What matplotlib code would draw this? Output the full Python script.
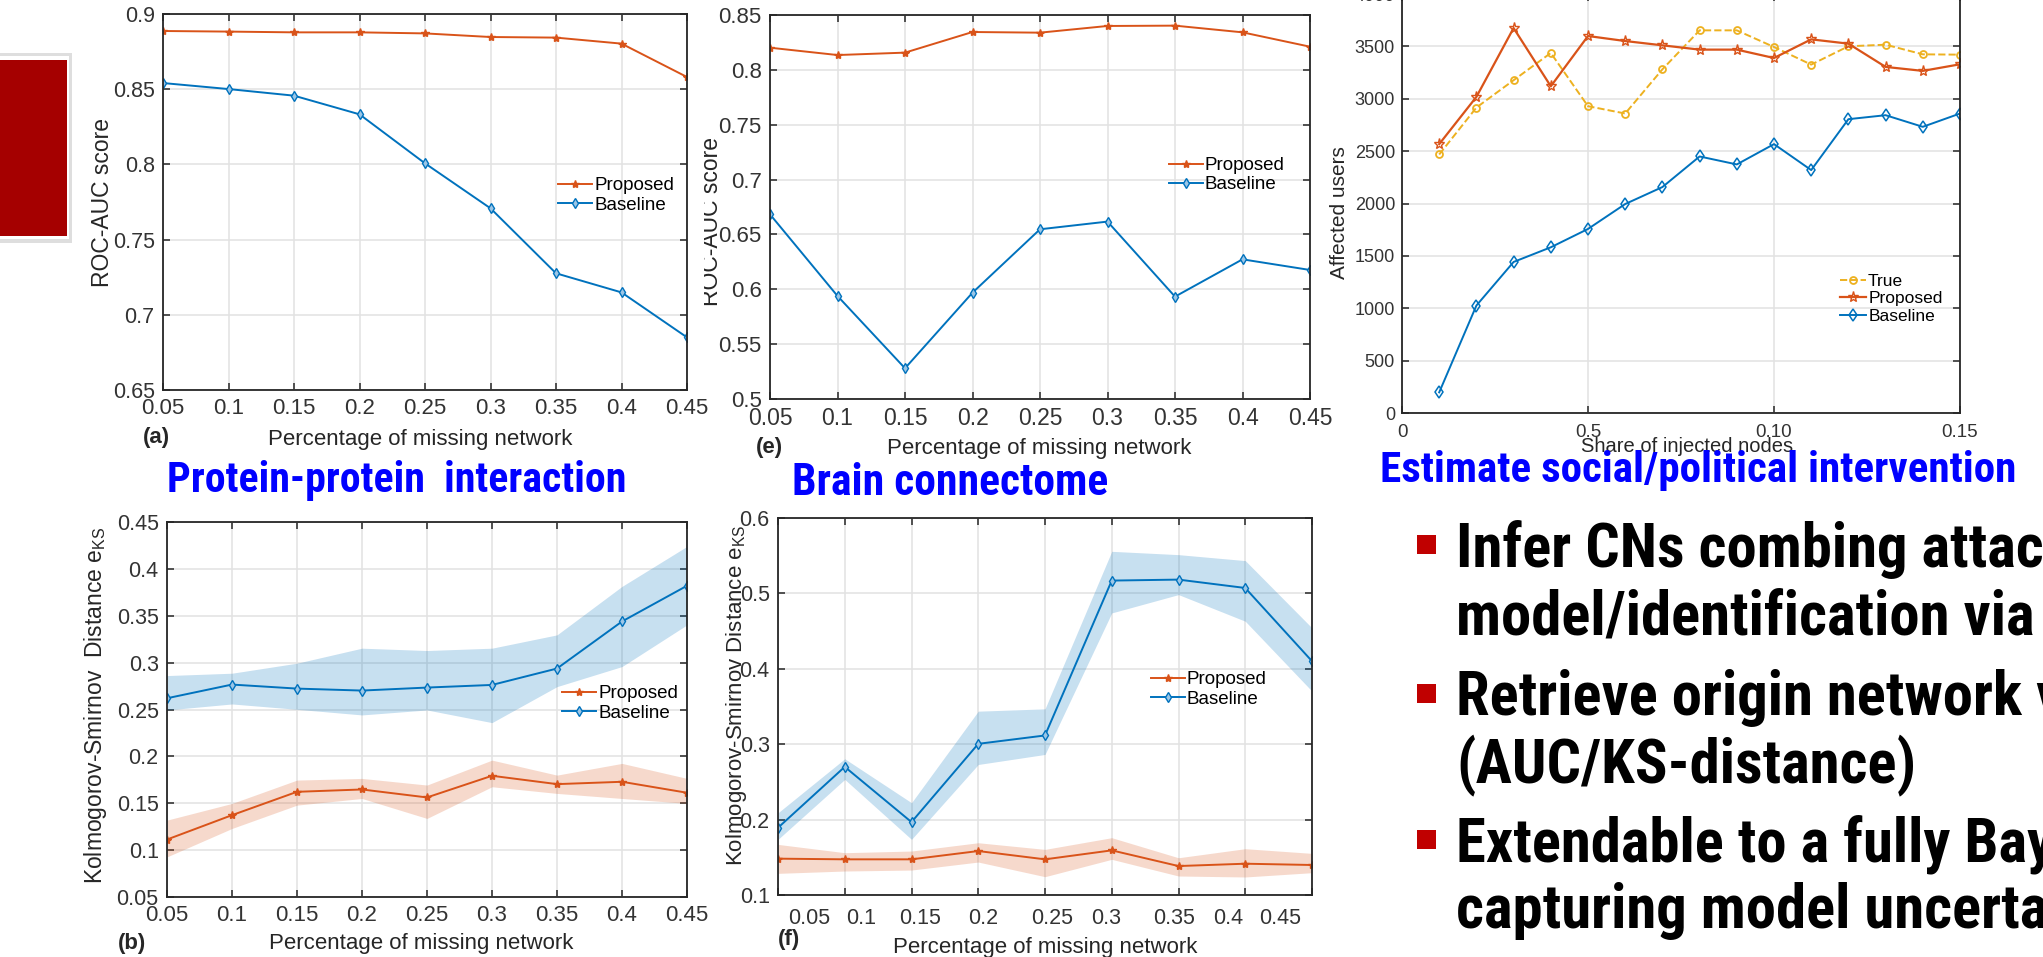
import matplotlib
matplotlib.use('Agg')
import matplotlib.pyplot as plt
from matplotlib.patches import Rectangle
from matplotlib import font_manager as fm
from matplotlib.transforms import Bbox, TransformedBbox

# ---------------- data ----------------
x_missing = [0.05, 0.10, 0.15, 0.20, 0.25, 0.30, 0.35, 0.40, 0.45]
x_miss_labels = ['0.05', '0.1', '0.15', '0.2', '0.25', '0.3', '0.35', '0.4', '0.45']

# (a) protein-protein ROC-AUC
a_proposed = [0.8887, 0.8883, 0.8878, 0.8878, 0.8871, 0.8847, 0.8843, 0.8803, 0.8581]
a_baseline = [0.8541, 0.8501, 0.8457, 0.8333, 0.8007, 0.7708, 0.7276, 0.7149, 0.6850]
a_yticks = [0.65, 0.70, 0.75, 0.80, 0.85, 0.90]
a_ylabels = ['0.65', '0.7', '0.75', '0.8', '0.85', '0.9']

# (e) brain connectome ROC-AUC
e_proposed = [0.8202, 0.8135, 0.8157, 0.8345, 0.8339, 0.8400, 0.8403, 0.8342, 0.8211]
e_baseline = [0.6683, 0.5939, 0.5280, 0.5969, 0.6547, 0.6617, 0.5933, 0.6273, 0.6176]
e_yticks = [0.50, 0.55, 0.60, 0.65, 0.70, 0.75, 0.80, 0.85]
e_ylabels = ['0.5', '0.55', '0.6', '0.65', '0.7', '0.75', '0.8', '0.85']

# (b) protein-protein KS distance
b_proposed = [0.1113, 0.1373, 0.1622, 0.1647, 0.1562, 0.1793, 0.1704, 0.1729, 0.1612]
b_prop_lo = [0.0928, 0.1231, 0.1480, 0.1551, 0.1338, 0.1676, 0.1605, 0.1551, 0.1498]
b_prop_hi = [0.1320, 0.1498, 0.1747, 0.1765, 0.1694, 0.1960, 0.1800, 0.1925, 0.1765]
b_baseline = [0.2620, 0.2766, 0.2723, 0.2702, 0.2734, 0.2762, 0.2937, 0.3439, 0.3820]
b_base_lo = [0.2495, 0.2559, 0.2502, 0.2442, 0.2495, 0.2360, 0.2744, 0.2958, 0.3403]
b_base_hi = [0.2862, 0.2887, 0.2994, 0.3154, 0.3129, 0.3154, 0.3296, 0.3813, 0.4240]
b_yticks = [0.05, 0.10, 0.15, 0.20, 0.25, 0.30, 0.35, 0.40, 0.45]
b_ylabels = ['0.05', '0.1', '0.15', '0.2', '0.25', '0.3', '0.35', '0.4', '0.45']

# (f) brain connectome KS distance
f_proposed = [0.1482, 0.1473, 0.1473, 0.1583, 0.1473, 0.1592, 0.1384, 0.1415, 0.1398]
f_prop_lo = [0.1287, 0.1318, 0.1331, 0.1437, 0.1243, 0.1473, 0.1252, 0.1239, 0.1296]
f_prop_hi = [0.1671, 0.1561, 0.1583, 0.1693, 0.1605, 0.1760, 0.1494, 0.1614, 0.1552]
f_baseline = [0.1892, 0.2700, 0.1967, 0.3005, 0.3116, 0.5170, 0.5183, 0.5072, 0.4101]
f_base_lo = [0.1738, 0.2533, 0.1738, 0.2731, 0.2864, 0.4741, 0.4984, 0.4631, 0.3703]
f_base_hi = [0.2090, 0.2807, 0.2224, 0.3438, 0.3469, 0.5558, 0.5514, 0.5435, 0.4542]
f_yticks = [0.1, 0.2, 0.3, 0.4, 0.5, 0.6]
f_ylabels = ['0.1', '0.2', '0.3', '0.4', '0.5', '0.6']
f_label_pos = [0.0732, 0.1122, 0.1564, 0.2036, 0.2552, 0.2957, 0.3466, 0.3870, 0.4260]

# (c) social / political intervention
share = [0.01, 0.02, 0.03, 0.04, 0.05, 0.06, 0.07, 0.08, 0.09, 0.10, 0.11, 0.12, 0.13, 0.14, 0.15]
c_true = [2468, 2916, 3177, 3437, 2929, 2859, 3281, 3653, 3653, 3494, 3326, 3501, 3516, 3424, 3421]
c_proposed = [2567, 3018, 3675, 3119, 3599, 3551, 3510, 3469, 3469, 3389, 3567, 3526, 3304, 3266, 3329]
c_baseline = [197, 1026, 1442, 1582, 1757, 1995, 2157, 2449, 2373, 2567, 2319, 2805, 2843, 2732, 2859]
c_xticks = [0.0, 0.05, 0.10, 0.15]
c_xlabels = ['0', '0.5', '0.10', '0.15']
c_yticks = [0, 500, 1000, 1500, 2000, 2500, 3000, 3500, 4000]
c_ylabels = ['0', '500', '1000', '1500', '2000', '2500', '3000', '3500', '4000']

titles = ['Protein-protein  interaction', 'Brain connectome', 'Estimate social/political intervention']
bullets = [['Infer CNs combing attack', 'model/identification via'],
           ['Retrieve origin network via', '(AUC/KS-distance)'],
           ['Extendable to a fully Bayesian', 'capturing model uncertainty']]

# ---------------- style ----------------
ORANGE = '#D95319'
BLUE = '#0072BD'
YELLOW = '#EDB120'
TXT = '#262626'

W, H = 2043, 957
fig = plt.figure(figsize=(W / 100, H / 100), dpi=100)


def _w(v):
    if isinstance(v, str):
        return fm.weight_dict.get(v, 400)
    return v


NARROW = 'Liberation Sans'
for cand in ['Liberation Sans Narrow', 'Arial Narrow', 'Roboto Condensed', 'Archivo Narrow',
             'PT Sans Narrow', 'Open Sans Condensed', 'IBM Plex Sans Condensed']:
    ws = [_w(f.weight) for f in fm.fontManager.ttflist if f.name == cand and f.style == 'normal']
    if any(w >= 700 for w in ws):
        NARROW = cand
        break
CHART = 'Liberation Sans'
plt.rcParams['font.family'] = [CHART, 'DejaVu Sans']
plt.rcParams['mathtext.fontset'] = 'custom'
plt.rcParams['mathtext.rm'] = CHART
plt.rcParams['mathtext.default'] = 'regular'


def rect(l, t, r, b):
    return [l / W, 1 - b / H, (r - l) / W, (b - t) / H]


def fx(x):
    return x / W


def fy(y):
    return 1 - y / H


def style(ax, xlim, ylim, xticks, xlabels, yticks, ylabels, xsize=16, ysize=15.5):
    ax.set_xlim(xlim)
    ax.set_ylim(ylim)
    ax.set_xticks(xticks)
    ax.set_yticks(yticks)
    if xlabels is not None:
        ax.set_xticklabels(xlabels)
    ax.set_yticklabels(ylabels)
    ax.tick_params(direction='in', top=True, right=True, length=5, width=1.1,
                   colors=TXT, pad=6)
    ax.tick_params(axis='x', labelsize=xsize, labelcolor='#333333')
    ax.tick_params(axis='y', labelsize=ysize, labelcolor='#333333')
    for s in ax.spines.values():
        s.set_color(TXT)
        s.set_linewidth(1.3)
    ax.grid(True, color='#e2e2e2', lw=1.1)
    ax.set_axisbelow(True)


def legend(ax, handles, labels, x, y, size=13.5, hl=1.8):
    ax.legend(handles, labels, loc='upper left', bbox_to_anchor=(fx(x), fy(y)),
              bbox_transform=fig.transFigure, frameon=False, borderpad=0,
              borderaxespad=0, handlelength=hl, handletextpad=0.12,
              labelspacing=0.12, prop={'family': CHART, 'size': size})


def plot_pair(ax, x, prop, base):
    lp, = ax.plot(x, prop, color=ORANGE, lw=1.4, marker='*', ms=6, mfc=ORANGE, mec=ORANGE)
    lb, = ax.plot(x, base, color=BLUE, lw=1.4, marker='d', ms=5, mfc='#9cc6e6', mec=BLUE, mew=1)
    return lp, lb


# ---------- (a) ----------
ax_a = fig.add_axes(rect(163, 14, 687, 390))
style(ax_a, (0.05, 0.45), (0.65, 0.9), x_missing, x_miss_labels, a_yticks, a_ylabels)
lp, lb = plot_pair(ax_a, x_missing, a_proposed, a_baseline)
legend(ax_a, [lp, lb], ['Proposed', 'Baseline'], 558, 177)
fig.text(fx(109), fy(202), 'ROC-AUC score', rotation=90, rotation_mode='anchor',
         ha='center', va='baseline', fontsize=16.5, color=TXT)
fig.text(fx(143), fy(437), '(a)', ha='left', va='center', fontsize=16, fontweight='bold', color=TXT)
fig.text(fx(420), fy(440), 'Percentage of missing network', ha='center', va='center', fontsize=16, color=TXT)

# ---------- (e) ----------
ax_e = fig.add_axes(rect(770, 15, 1310, 399))
style(ax_e, (0.05, 0.45), (0.5, 0.85), x_missing, x_miss_labels, e_yticks, e_ylabels, xsize=16.5, ysize=16)
lp, lb = plot_pair(ax_e, x_missing, e_proposed, e_baseline)
legend(ax_e, [lp, lb], ['Proposed', 'Baseline'], 1169, 157)
t = fig.text(fx(718), fy(222), 'ROC-AUC score', rotation=90, rotation_mode='anchor',
             ha='center', va='baseline', fontsize=16.5, color=TXT)
t.set_clip_box(TransformedBbox(Bbox([[704 / W, 0], [1, 1]]), fig.transFigure))
t.set_clip_on(True)
fig.text(fx(756), fy(447), '(e)', ha='left', va='center', fontsize=16, fontweight='bold', color=TXT)
fig.text(fx(1039), fy(448), 'Percentage of missing network', ha='center', va='center', fontsize=16, color=TXT)

# ---------- (c) ----------
ax_c = fig.add_axes(rect(1402, -6, 1960, 413))
style(ax_c, (0, 0.15), (0, 4000), c_xticks, c_xlabels, c_yticks, c_ylabels, xsize=13.5, ysize=13)
ax_c.tick_params(axis='y', pad=5)
ax_c.tick_params(axis='x', pad=8)
l1, = ax_c.plot(share, c_true, color=YELLOW, lw=1.4, ls='--', marker='o', ms=5, mfc='none', mec=YELLOW, mew=1.3)
l2, = ax_c.plot(share, c_proposed, color=ORANGE, lw=1.6, marker='*', ms=8, mfc='none', mec=ORANGE)
l3, = ax_c.plot(share, c_baseline, color=BLUE, lw=1.4, marker='d', ms=6, mfc='none', mec=BLUE, mew=1.1)
legend(ax_c, [l1, l2, l3], ['True', 'Proposed', 'Baseline'], 1840, 274, size=12.5, hl=1.5)
fig.text(fx(1345), fy(213), 'Affected users', rotation=90, rotation_mode='anchor',
         ha='center', va='baseline', fontsize=15, color=TXT)
fig.text(fx(1687), fy(447), 'Share of injected nodes', ha='center', va='center', fontsize=14.5, color=TXT)

# ---------- (b) ----------
ax_b = fig.add_axes(rect(167, 522, 687, 897))
style(ax_b, (0.05, 0.45), (0.05, 0.45), x_missing, x_miss_labels, b_yticks, b_ylabels)
ax_b.fill_between(x_missing, b_base_lo, b_base_hi, color=BLUE, alpha=0.22, lw=0)
ax_b.fill_between(x_missing, b_prop_lo, b_prop_hi, color=ORANGE, alpha=0.22, lw=0)
lp, lb = plot_pair(ax_b, x_missing, b_proposed, b_baseline)
legend(ax_b, [lp, lb], ['Proposed', 'Baseline'], 562, 685)
fig.text(fx(102), fy(705), 'Kolmogorov-Smirnov  Distance e$_{KS}$', rotation=90, rotation_mode='anchor',
         ha='center', va='baseline', fontsize=16.5, color=TXT)
fig.text(fx(118), fy(943), '(b)', ha='left', va='center', fontsize=16, fontweight='bold', color=TXT)
fig.text(fx(421), fy(943), 'Percentage of missing network', ha='center', va='center', fontsize=16, color=TXT)

# ---------- (f) ----------
ax_f = fig.add_axes(rect(778, 518, 1312, 895))
style(ax_f, (0.05, 0.45), (0.1, 0.6), x_missing, None, f_yticks, f_ylabels, ysize=15.5)
ax_f.tick_params(axis='x', which='major', labelbottom=False)
ax_f.set_xticks(f_label_pos, minor=True)
ax_f.set_xticklabels(x_miss_labels, minor=True)
ax_f.tick_params(axis='x', which='minor', length=0, labelsize=15.5, labelcolor='#333333', pad=9)
ax_f.fill_between(x_missing, f_base_lo, f_base_hi, color=BLUE, alpha=0.22, lw=0)
ax_f.fill_between(x_missing, f_prop_lo, f_prop_hi, color=ORANGE, alpha=0.22, lw=0)
lp, lb = plot_pair(ax_f, x_missing, f_proposed, f_baseline)
legend(ax_f, [lp, lb], ['Proposed', 'Baseline'], 1151, 671)
fig.text(fx(742), fy(695), 'Kolmogorov-Smirnov Distance e$_{KS}$', rotation=90, rotation_mode='anchor',
         ha='center', va='baseline', fontsize=16, color=TXT)
fig.text(fx(778), fy(940), '(f)', ha='left', va='center', fontsize=16, fontweight='bold', color=TXT)
fig.text(fx(1045), fy(947), 'Percentage of missing network', ha='center', va='center', fontsize=16, color=TXT)

# ---------- slide decorations ----------
fig.patches.append(Rectangle((0, fy(243)), fx(72), (243 - 53) / H, transform=fig.transFigure,
                             facecolor='#dedede', edgecolor='none', zorder=0))
fig.patches.append(Rectangle((0, fy(239)), fx(69), (239 - 56) / H, transform=fig.transFigure,
                             facecolor='white', edgecolor='none', zorder=0))
fig.patches.append(Rectangle((0, fy(236)), fx(67), (236 - 60) / H, transform=fig.transFigure,
                             facecolor='#A50000', edgecolor='none', zorder=0))

renderer = fig.canvas.get_renderer()


def fit_width(txt, target):
    w = txt.get_window_extent(renderer).width
    txt.set_fontsize(txt.get_fontsize() * target / w)
    return txt.get_fontsize()


title_pos = [(167, 492), (792, 495), (1380, 482)]
title_width = [458, 316, 637]
for (tx, ty), s, tw in zip(title_pos, titles, title_width):
    tt = fig.text(fx(tx), fy(ty), s, ha='left', va='baseline', fontsize=31, fontweight='bold',
                  color='#0000FF', family=[NARROW, 'DejaVu Sans'])
    fit_width(tt, tw)

# calibrate bullet size on the fully visible line "(AUC/KS-distance)" (460 px wide)
probe = fig.text(0, 0, bullets[1][1], fontsize=44, fontweight='bold', family=[NARROW, 'DejaVu Sans'])
bsize = fit_width(probe, 460)
probe.remove()

bullet_y = [(567, 634), (715, 783), (862, 928)]
square_top = [535, 684, 830]
for (y1, y2), sq, lines in zip(bullet_y, square_top, bullets):
    fig.patches.append(Rectangle((fx(1417), fy(sq + 19)), 19 / W, 19 / H, transform=fig.transFigure,
                                 facecolor='#C00000', edgecolor='none'))
    fig.text(fx(1456), fy(y1), lines[0], ha='left', va='baseline', fontsize=bsize, fontweight='bold',
             color='black', family=[NARROW, 'DejaVu Sans'])
    fig.text(fx(1456), fy(y2), lines[1], ha='left', va='baseline', fontsize=bsize, fontweight='bold',
             color='black', family=[NARROW, 'DejaVu Sans'])

fig.savefig('out.png', dpi=100)
